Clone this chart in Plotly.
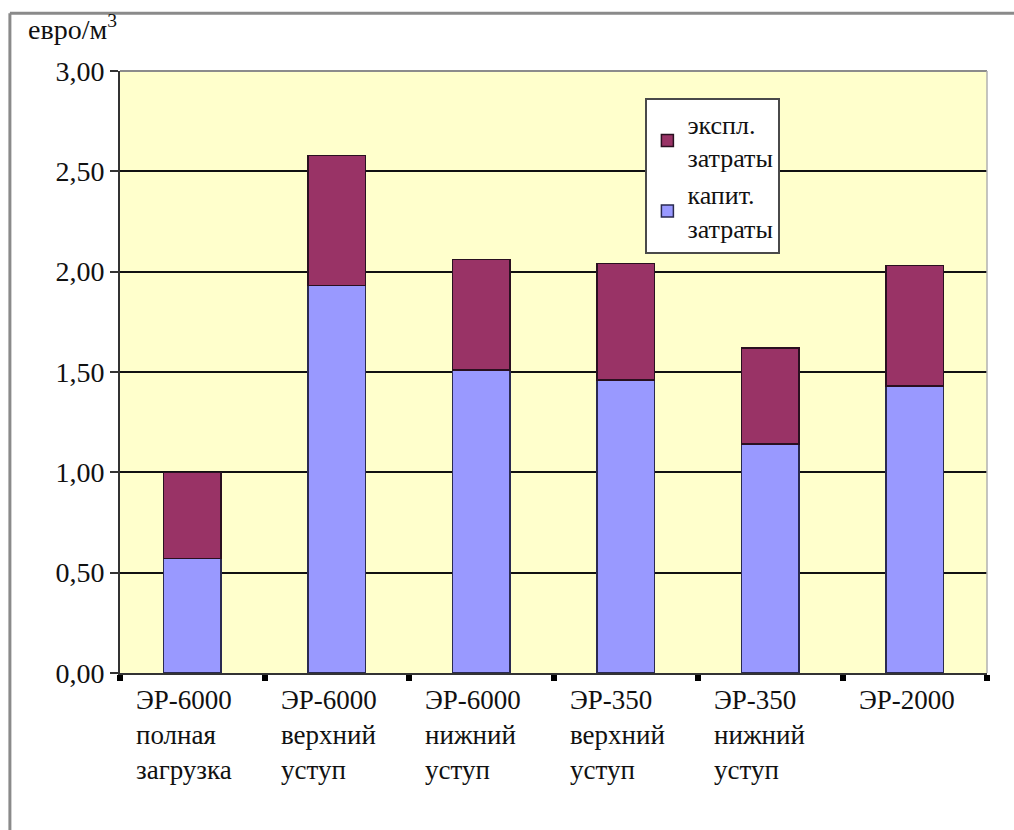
import plotly.graph_objects as go

# Cost per cubic metre for each excavator / working mode
categories = [
    "ЭР-6000<br>полная<br>загрузка",
    "ЭР-6000<br>верхний<br>уступ",
    "ЭР-6000<br>нижний<br>уступ",
    "ЭР-350<br>верхний<br>уступ",
    "ЭР-350<br>нижний<br>уступ",
    "ЭР-2000",
]
capital_costs = [0.57, 1.93, 1.51, 1.46, 1.14, 1.43]
operating_costs = [0.43, 0.65, 0.55, 0.58, 0.48, 0.60]
y_ticks = [0.0, 0.5, 1.0, 1.5, 2.0, 2.5, 3.0]

SERIF = "Liberation Serif"
keys = [f"c{i}" for i in range(len(categories))]

fig = go.Figure()
fig.add_trace(go.Bar(
    x=keys, y=capital_costs, name="капит.<br>затраты",
    marker=dict(color="#9999FF", line=dict(color="#2a2a50", width=1.5)),
))
fig.add_trace(go.Bar(
    x=keys, y=operating_costs, name="экспл.<br>затраты",
    marker=dict(color="#993366", line=dict(color="#2a1020", width=1.5)),
))

# Category captions, left-aligned under each bar
for k, label in zip(keys, categories):
    fig.add_annotation(
        x=k, y=0, xref="x", yref="y", text=label, showarrow=False,
        xanchor="left", yanchor="top", align="left", xshift=-58, yshift=-10,
        font=dict(family=SERIF, size=27, color="#111"),
    )

fig.add_annotation(
    x=-0.108, y=1.04, xref="paper", yref="paper", xanchor="left", yanchor="bottom",
    text="евро/м<sup>3</sup>", showarrow=False,
    font=dict(family=SERIF, size=28, color="#111"),
)

# outer frame (top and left) and grey plot-area edges
fig.add_shape(type="line", xref="paper", yref="paper", x0=-0.127, x1=1.05, y0=1.096, y1=1.096,
              line=dict(color="#8a8a8a", width=3))
fig.add_shape(type="line", xref="paper", yref="paper", x0=-0.127, x1=-0.127, y0=-0.3, y1=1.096,
              line=dict(color="#8a8a8a", width=3))
fig.add_shape(type="line", xref="x domain", yref="y domain", x0=0, x1=1, y0=1, y1=1,
              line=dict(color="#8c8c8c", width=2), layer="above")
fig.add_shape(type="line", xref="x domain", yref="y domain", x0=1, x1=1, y0=0, y1=1,
              line=dict(color="#b0b0b0", width=1.5), layer="above")

fig.update_layout(
    width=1014, height=830,
    margin=dict(l=120, r=27, t=71, b=157),
    paper_bgcolor="white",
    plot_bgcolor="#FFFFCC",
    barmode="stack",
    bargap=0.6,
    separators=", ",
    font=dict(family=SERIF, size=28, color="#111"),
    showlegend=True,
    legend=dict(
        x=0.606, y=0.955, xanchor="left", yanchor="top",
        bgcolor="white", bordercolor="#4a4a4a", borderwidth=2,
        traceorder="reversed", font=dict(family=SERIF, size=26, color="#111"),
        tracegroupgap=4,
    ),
    xaxis=dict(
        showticklabels=False, tickson="boundaries", ticks="outside",
        ticklen=6, tickwidth=6, tickcolor="#000",
        showline=True, linecolor="#333", linewidth=2, showgrid=False,
    ),
    yaxis=dict(
        range=[0, 3], tickvals=y_ticks, tickformat=".2f",
        ticks="outside", ticklen=8, tickwidth=2, tickcolor="#333",
        showline=True, linecolor="#333", linewidth=2,
        showgrid=True, gridcolor="#111", gridwidth=2, zeroline=False,
        tickfont=dict(family=SERIF, size=28, color="#111"),
    ),
)

fig.write_html("out.html")
